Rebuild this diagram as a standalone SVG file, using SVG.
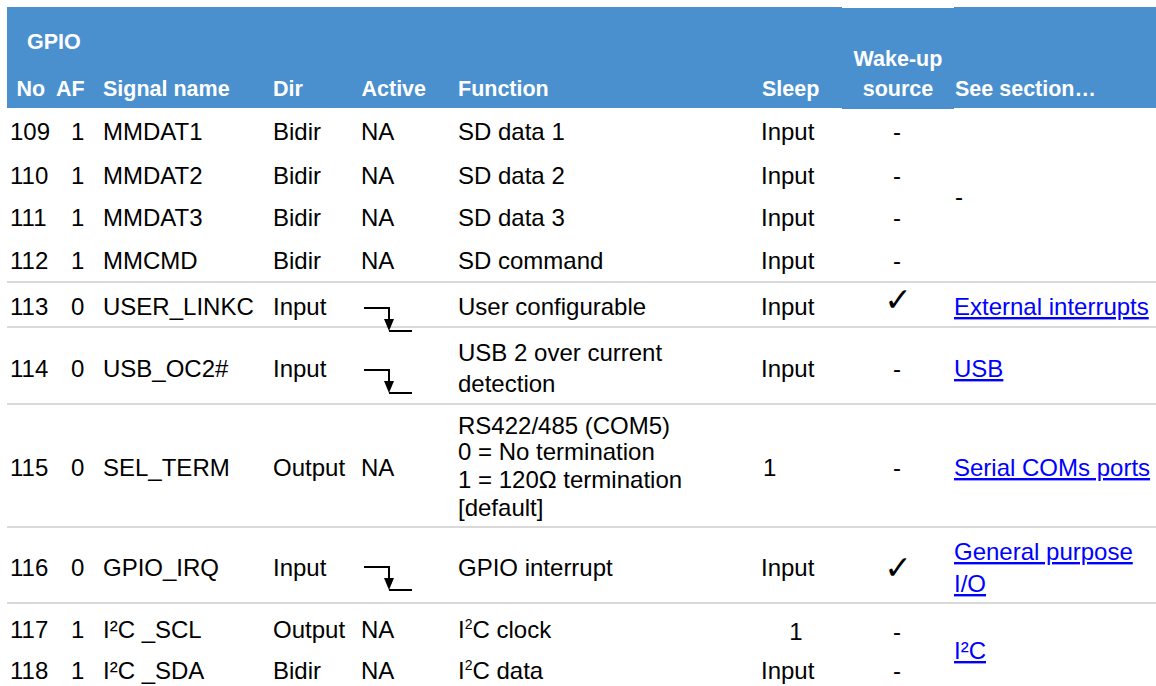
<svg xmlns="http://www.w3.org/2000/svg" xmlns:xlink="http://www.w3.org/1999/xlink" width="1156" height="686" viewBox="0 0 1156 686">
<style>
.h{font-family:"Liberation Sans",Arial,sans-serif;font-size:21.5px;font-weight:bold;fill:#fff}
.t{font-family:"Liberation Sans",Arial,sans-serif;font-size:24px;fill:#000}
.m{text-anchor:middle}
.l{font-family:"Liberation Sans",Arial,sans-serif;font-size:24px;fill:#0000ff;text-decoration:underline}
.ck{font-family:"DejaVu Sans",sans-serif;font-size:33px;font-weight:bold;fill:#000;text-anchor:middle}
.rl{stroke:#d9d9d9;stroke-width:2}
</style>
<defs>
<g id="fe">
<path d="M0,0 H25 V20 M25,23 H48" fill="none" stroke="#000" stroke-width="2"/>
<polygon points="20,11 30,11 25,23" fill="#000"/>
</g>
</defs>
<rect width="1156" height="686" fill="#fff"/>
<g id="header">
<rect x="7" y="7" width="1149" height="101" fill="#4a90cf"/>
<rect x="842" y="7" width="112" height="1" fill="#fff"/>
<rect x="842" y="108" width="112" height="1" fill="#4a90cf"/>
<text class="h" x="27" y="49">GPIO</text>
<text class="h" x="16.5" y="96">No</text>
<text class="h" x="56" y="96">AF</text>
<text class="h" x="103" y="96">Signal name</text>
<text class="h" x="273" y="96">Dir</text>
<text class="h" x="361.5" y="96">Active</text>
<text class="h" x="458" y="96">Function</text>
<text class="h" x="762" y="96">Sleep</text>
<text class="h m" x="898" y="66">Wake-up</text>
<text class="h m" x="898" y="96">source</text>
<text class="h" x="955" y="96">See section…</text>
</g>
<g id="connectors">
<line class="rl" x1="7" y1="282" x2="1156" y2="282"/>
<line class="rl" x1="7" y1="327" x2="1156" y2="327"/>
<line class="rl" x1="7" y1="404" x2="1156" y2="404"/>
<line class="rl" x1="7" y1="527" x2="1156" y2="527"/>
<line class="rl" x1="7" y1="603" x2="1156" y2="603"/>
</g>
<g id="row109">
<text class="t" x="10" y="140">109</text><text class="t" x="71" y="140">1</text><text class="t" x="103" y="140">MMDAT1</text><text class="t" x="273" y="140">Bidir</text><text class="t" x="361" y="140">NA</text><text class="t" x="458" y="140">SD data 1</text><text class="t" x="761" y="140">Input</text><text class="t m" x="897" y="140">-</text>
</g>
<g id="row110">
<text class="t" x="10" y="184">110</text><text class="t" x="71" y="184">1</text><text class="t" x="103" y="184">MMDAT2</text><text class="t" x="273" y="184">Bidir</text><text class="t" x="361" y="184">NA</text><text class="t" x="458" y="184">SD data 2</text><text class="t" x="761" y="184">Input</text><text class="t m" x="897" y="184">-</text>
</g>
<g id="row111">
<text class="t" x="10" y="226">111</text><text class="t" x="71" y="226">1</text><text class="t" x="103" y="226">MMDAT3</text><text class="t" x="273" y="226">Bidir</text><text class="t" x="361" y="226">NA</text><text class="t" x="458" y="226">SD data 3</text><text class="t" x="761" y="226">Input</text><text class="t m" x="897" y="226">-</text>
</g>
<g id="row112">
<text class="t" x="10" y="269">112</text><text class="t" x="71" y="269">1</text><text class="t" x="103" y="269">MMCMD</text><text class="t" x="273" y="269">Bidir</text><text class="t" x="361" y="269">NA</text><text class="t" x="458" y="269">SD command</text><text class="t" x="761" y="269">Input</text><text class="t m" x="897" y="269">-</text>
</g>
<g id="sec109-112"><text class="t" x="955" y="205">-</text></g>
<g id="row113">
<text class="t" x="10" y="315">113</text><text class="t" x="71" y="315">0</text><text class="t" x="103" y="315">USER_LINKC</text><text class="t" x="273" y="315">Input</text>
<use xlink:href="#fe" x="364" y="308"/>
<text class="t" x="458" y="315">User configurable</text><text class="t" x="761" y="315">Input</text><text class="ck" x="898" y="311">✓</text><text class="l" x="954" y="315">External interrupts</text>
</g>
<g id="row114">
<text class="t" x="10" y="377">114</text><text class="t" x="71" y="377">0</text><text class="t" x="103" y="377">USB_OC2#</text><text class="t" x="273" y="377">Input</text>
<use xlink:href="#fe" x="364" y="370"/>
<text class="t" x="458" y="361">USB 2 over current</text><text class="t" x="458" y="392">detection</text><text class="t" x="761" y="377">Input</text><text class="t m" x="897" y="377">-</text><text class="l" x="954" y="377">USB</text>
</g>
<g id="row115">
<text class="t" x="10" y="476">115</text><text class="t" x="71" y="476">0</text><text class="t" x="103" y="476">SEL_TERM</text><text class="t" x="273" y="476">Output</text><text class="t" x="361" y="476">NA</text>
<text class="t" x="458" y="434">RS422/485 (COM5)</text><text class="t" x="458" y="460">0 = No termination</text><text class="t" x="458" y="488">1 = 120Ω termination</text><text class="t" x="458" y="516">[default]</text>
<text class="t" x="763" y="476">1</text><text class="t m" x="897" y="476">-</text><text class="l" x="954" y="476">Serial COMs ports</text>
</g>
<g id="row116">
<text class="t" x="10" y="576">116</text><text class="t" x="71" y="576">0</text><text class="t" x="103" y="576">GPIO_IRQ</text><text class="t" x="273" y="576">Input</text>
<use xlink:href="#fe" x="364" y="567"/>
<text class="t" x="458" y="576">GPIO interrupt</text><text class="t" x="761" y="576">Input</text><text class="ck" x="898" y="579">✓</text><text class="l" x="954" y="560">General purpose</text><text class="l" x="954" y="592">I/O</text>
</g>
<g id="row117">
<text class="t" x="10" y="638">117</text><text class="t" x="71" y="638">1</text><text class="t" x="103" y="638">I²C _SCL</text><text class="t" x="273" y="638">Output</text><text class="t" x="361" y="638">NA</text>
<text class="t" x="458" y="638">I<tspan font-size="14" dy="-9">2</tspan><tspan dy="9">C clock</tspan></text><text class="t m" x="796" y="640">1</text><text class="t m" x="897" y="640">-</text>
</g>
<g id="row118">
<text class="t" x="10" y="679">118</text><text class="t" x="71" y="679">1</text><text class="t" x="103" y="679">I²C _SDA</text><text class="t" x="273" y="679">Bidir</text><text class="t" x="361" y="679">NA</text>
<text class="t" x="458" y="679">I<tspan font-size="14" dy="-9">2</tspan><tspan dy="9">C data</tspan></text><text class="t" x="761" y="679">Input</text><text class="t m" x="897" y="679">-</text>
</g>
<g id="sec117-118"><text class="l" x="954" y="659">I²C</text></g>
</svg>
